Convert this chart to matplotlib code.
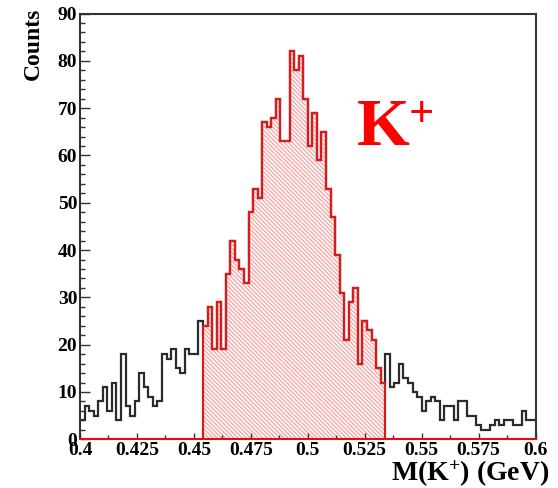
import matplotlib.pyplot as plt
import numpy as np
from matplotlib.ticker import MultipleLocator

plt.rcParams['font.family'] = 'Liberation Serif'
plt.rcParams['font.weight'] = 'bold'
plt.rcParams['mathtext.fontset'] = 'custom'
plt.rcParams['mathtext.rm'] = 'Liberation Serif:bold'
plt.rcParams['mathtext.bf'] = 'Liberation Serif:bold'
plt.rcParams['mathtext.it'] = 'Liberation Serif:bold'
plt.rcParams['hatch.linewidth'] = 0.9

# histogram: 100 bins between 0.40 and 0.60 GeV
x_min, x_max, n_bins = 0.4, 0.6, 100
counts = [4, 7, 6, 5, 8, 11, 6, 12, 4, 18,
          7, 5, 8, 14, 11, 9, 7, 8, 18, 17,
          19, 15, 14, 19, 18, 18, 25, 24, 28, 19,
          29, 19, 35, 42, 38, 36, 33, 48, 53, 51,
          67, 66, 68, 72, 63, 63, 82, 78, 81, 72,
          62, 69, 59, 65, 53, 47, 39, 31, 21, 29,
          32, 16, 25, 23, 21, 15, 12, 18, 11, 12,
          16, 13, 12, 10, 9, 6, 8, 9, 8, 4,
          7, 7, 4, 8, 8, 5, 5, 3, 2, 2,
          3, 4, 3, 4, 4, 3, 3, 6, 4, 4]
# selected mass window (red, hatched)
window = (0.454, 0.534)

edges = np.linspace(x_min, x_max, n_bins + 1)
counts = np.array(counts)
lo = int(round((window[0] - x_min) / (x_max - x_min) * n_bins))
hi = int(round((window[1] - x_min) / (x_max - x_min) * n_bins))

fig = plt.figure(figsize=(5.58, 4.88), dpi=100)
ax = fig.add_axes([0.1434, 0.0998, 0.8163, 0.8725])

ax.stairs(counts, edges, baseline=None, color='#2b2b2b', lw=1.6)
ax.stairs(counts[lo:hi], edges[lo:hi + 1], fill=True, facecolor='none',
          edgecolor='#f4a0a0', hatch='\\' * 8, lw=0)
ax.stairs(counts[lo:hi], edges[lo:hi + 1], color='#d81b1b', lw=1.6)

ax.set_xlim(x_min, x_max)
ax.set_ylim(0, 90)

ax.xaxis.set_minor_locator(MultipleLocator(0.0125))
ax.yaxis.set_major_locator(MultipleLocator(10))
ax.yaxis.set_minor_locator(MultipleLocator(2))
ax.set_xticks([0.4, 0.425, 0.45, 0.475, 0.5, 0.525, 0.55, 0.575, 0.6])
ax.set_xticklabels(['0.4', '0.425', '0.45', '0.475', '0.5', '0.525', '0.55', '0.575', '0.6'])

ax.tick_params(axis='both', which='both', direction='in', labelsize=14, colors='#333333',
               labelcolor='black')
ax.tick_params(axis='x', which='major', length=4.5, width=1, pad=2)
ax.tick_params(axis='x', which='minor', length=3, width=1)
ax.tick_params(axis='y', which='major', length=7, width=1, pad=2)
ax.tick_params(axis='y', which='minor', length=3.5, width=1)
for lab in ax.get_xticklabels() + ax.get_yticklabels():
    lab.set_fontweight('bold')

for s in ['left', 'right', 'top']:
    ax.spines[s].set_color('#333333')
    ax.spines[s].set_linewidth(1.5)
ax.spines['bottom'].set_color('#e01010')
ax.spines['bottom'].set_linewidth(1.5)

fig.text(33 / 558, 1 - 8 / 488, 'Counts', rotation=90, ha='center', va='top',
         fontsize=17, fontweight='bold')
fig.text(549 / 558, 1 - 481 / 488, 'M(K$^{+}$) (GeV)', ha='right', va='baseline',
         fontsize=20, fontweight='bold')

fig.text(357 / 558, 1 - 145 / 488, 'K', color='#ff0000', fontsize=49,
         fontweight='bold', va='baseline', ha='left')
fig.text(409 / 558, 1 - 126 / 488, '+', color='#ff0000', fontsize=32,
         fontweight='bold', va='baseline', ha='left')

fig.savefig('out.png', dpi=100)
